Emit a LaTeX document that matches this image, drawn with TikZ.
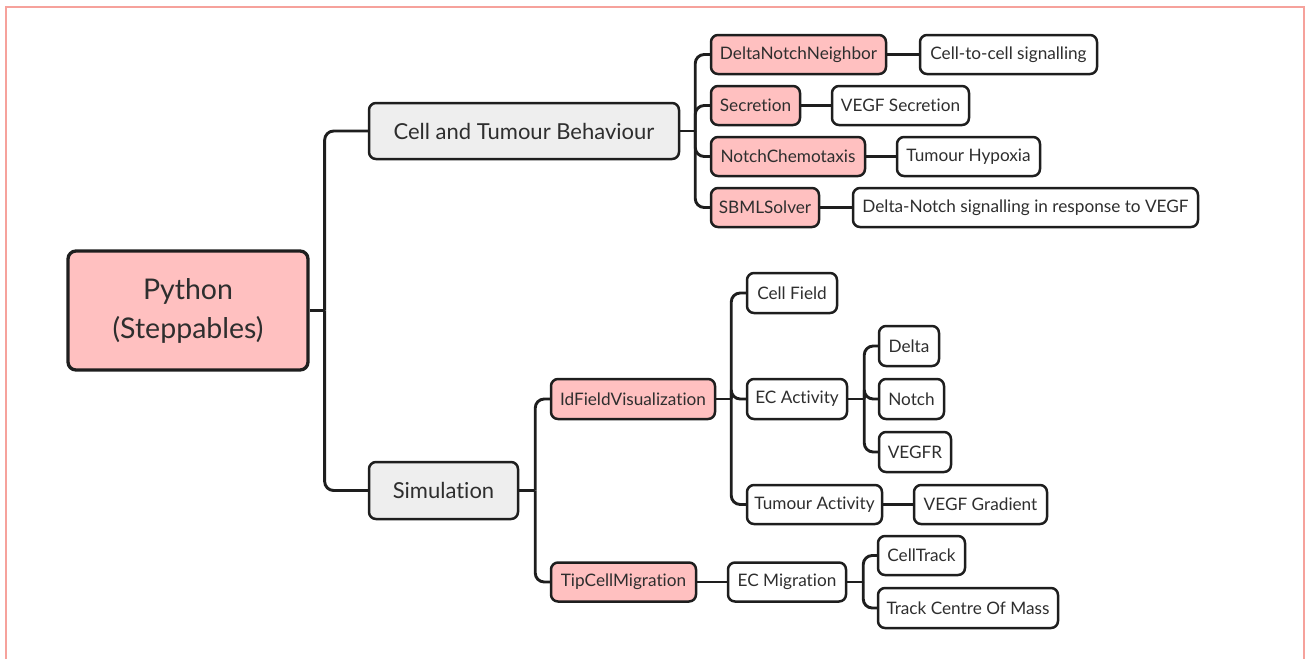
\documentclass[tikz,border=0pt]{standalone}
\usepackage{fontspec}
\setmainfont{Lato}[Ligatures={NoCommon}]
\usetikzlibrary{calc}

\definecolor{linec}{HTML}{1E1E1E}
\definecolor{textc}{HTML}{2E2E2E}
\definecolor{pinkc}{HTML}{FFC0C0}
\definecolor{grayc}{HTML}{EEEEEE}
\definecolor{framec}{HTML}{F6A29C}

\tikzset{
  box/.style={draw=linec, line width=2.5pt, rounded corners=7pt, inner sep=0pt,
              align=center, text=textc, font=\fontsize{17.2}{20}\selectfont},
  leaf/.style={box, fill=white},
  pinkbox/.style={box, fill=pinkc},
  graybox/.style={box, fill=grayc, font=\fontsize{22}{26}\selectfont},
  rootbox/.style={box, fill=pinkc, line width=3.3pt, rounded corners=8pt,
                  font=\fontsize{28.5}{39}\selectfont},
  conn/.style={draw=linec, line width=2.9pt, rounded corners=9pt},
}

\begin{document}
\begin{tikzpicture}[x=1pt, y=-1pt]
\useasboundingbox (0,0) rectangle (1305,659);

% outer frame (open at the bottom)
\draw[framec, line width=2.2pt] (6,659) -- (6,7) -- (1304,7) -- (1304,659);

% root
\node[rootbox, minimum width=240pt, minimum height=119pt] (root) at (188,310.5)
  {Python\\(Steppables)};

% second level
\node[graybox, minimum width=310pt, minimum height=56pt] (cat) at (524,131)
  {Cell and Tumour Behaviour};
\node[graybox, minimum width=149pt, minimum height=57pt] (sim) at (443.5,490.5)
  {Simulation};

% steppables of the cell and tumour behaviour branch
\node[pinkbox, minimum width=175pt, minimum height=39pt] (dnn) at (798.5,54.5) {DeltaNotchNeighbor};
\node[leaf,    minimum width=177pt, minimum height=39pt] (c2c) at (1008.5,54.5) {Cell-to-cell signalling};
\node[pinkbox, minimum width=89pt,  minimum height=39pt] (sec) at (755.5,105.5) {Secretion};
\node[leaf,    minimum width=137pt, minimum height=39pt] (vsec) at (900.5,105.5) {VEGF Secretion};
\node[pinkbox, minimum width=154pt, minimum height=39pt] (nch) at (788,156.5) {NotchChemotaxis};
\node[leaf,    minimum width=143pt, minimum height=39pt] (thyp) at (968.5,156.5) {Tumour Hypoxia};
\node[pinkbox, minimum width=108pt, minimum height=39pt] (sbml) at (765,207.5) {SBMLSolver};
\node[leaf,    minimum width=345pt, minimum height=39pt] (dns) at (1025.5,207.5) {Delta-Notch signalling in response to VEGF};

% simulation branch
\node[pinkbox, minimum width=164pt, minimum height=40pt] (idf) at (633,399) {IdFieldVisualization};
\node[pinkbox, minimum width=145pt, minimum height=39pt] (tcm) at (623.5,582) {TipCellMigration};

\node[leaf, minimum width=90pt,  minimum height=40pt] (cf)  at (792,293) {Cell Field};
\node[leaf, minimum width=100pt, minimum height=40pt] (eca) at (797,399) {EC Activity};
\node[leaf, minimum width=135pt, minimum height=39pt] (tua) at (814.5,504.5) {Tumour Activity};
\node[leaf, minimum width=133pt, minimum height=39pt] (vgr) at (980.5,504.5) {VEGF Gradient};

\node[leaf, minimum width=60pt, minimum height=40pt] (del)  at (909,346) {Delta};
\node[leaf, minimum width=65pt, minimum height=40pt] (notc) at (911.5,399) {Notch};
\node[leaf, minimum width=72pt, minimum height=40pt] (vgfr) at (915,452) {VEGFR};

\node[leaf, minimum width=118pt, minimum height=39pt] (ecm)  at (787,582) {EC Migration};
\node[leaf, minimum width=87pt,  minimum height=39pt] (ctr)  at (921.5,555.5) {CellTrack};
\node[leaf, minimum width=180pt, minimum height=40pt] (tcom) at (968,608) {Track Centre Of Mass};

% branching points
\coordinate (j0) at ([xshift=15pt]root.east);
\coordinate (j1) at ([xshift=15pt]cat.east);
\coordinate (j2) at ([xshift=16pt]sim.east);
\coordinate (j3) at ([xshift=15pt]idf.east);
\coordinate (j4) at ([xshift=16pt]eca.east);
\coordinate (j5) at ([xshift=16pt]ecm.east);

% connectors
\draw[conn] (root.east) -- (j0);
\draw[conn] (j0) |- (cat.west);
\draw[conn] (j0) |- (sim.west);

\draw[conn] (cat.east) -- (j1);
\draw[conn] (j1) |- (dnn.west);
\draw[conn] (j1) |- (sec.west);
\draw[conn] (j1) |- (nch.west);
\draw[conn] (j1) |- (sbml.west);

\draw[conn] (dnn.east) -- (c2c.west);
\draw[conn] (sec.east) -- (vsec.west);
\draw[conn] (nch.east) -- (thyp.west);
\draw[conn] (sbml.east) -- (dns.west);

\draw[conn] (sim.east) -- (j2);
\draw[conn] (j2) |- (idf.west);
\draw[conn] (j2) |- (tcm.west);

\draw[conn] (idf.east) -- (j3);
\draw[conn] (j3) |- (cf.west);
\draw[conn] (j3) |- (eca.west);
\draw[conn] (j3) |- (tua.west);
\draw[conn] (tua.east) -- (vgr.west);

\draw[conn] (eca.east) -- (j4);
\draw[conn] (j4) |- (del.west);
\draw[conn] (j4) |- (notc.west);
\draw[conn] (j4) |- (vgfr.west);

\draw[conn] (tcm.east) -- (ecm.west);
\draw[conn] (ecm.east) -- (j5);
\draw[conn] (j5) |- (ctr.west);
\draw[conn] (j5) |- (tcom.west);
\end{tikzpicture}
\end{document}
